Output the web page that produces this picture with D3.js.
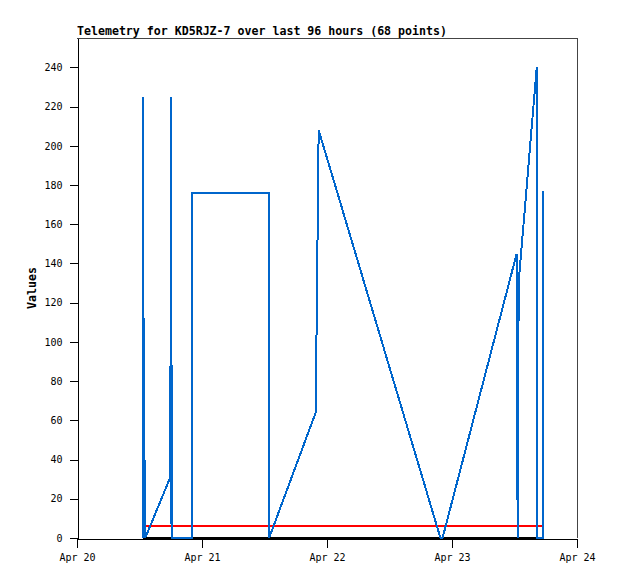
<!DOCTYPE html>
<html>
<head>
<meta charset="utf-8">
<script src="https://cdn.jsdelivr.net/npm/d3@7"></script>
<style>
  html, body { margin: 0; padding: 0; background: #fff; }
  svg { display: block; }
  text { font-family: "DejaVu Sans Mono", monospace; }
</style>
</head>
<body>
<script>
// ---- data ----
const titleText = "Telemetry for KD5RJZ-7 over last 96 hours (68 points)";
const yLabelText = "Values";

const blueTimes = [
  "2020-04-20T12:35", "2020-04-20T12:40", "2020-04-20T12:48", "2020-04-20T12:54",
  "2020-04-20T13:00", "2020-04-20T13:06", "2020-04-20T17:55", "2020-04-20T18:03",
  "2020-04-20T18:09", "2020-04-20T18:14", "2020-04-20T18:20", "2020-04-20T22:00",
  "2020-04-20T22:00", "2020-04-21T12:53", "2020-04-21T12:53", "2020-04-21T21:50",
  "2020-04-21T22:24", "2020-04-22T21:47", "2020-04-22T22:11", "2020-04-23T12:25",
  "2020-04-23T12:31", "2020-04-23T12:36", "2020-04-23T12:40", "2020-04-23T12:49",
  "2020-04-23T16:16", "2020-04-23T16:20", "2020-04-23T17:24", "2020-04-23T17:24"
];
const blueValues = [
  225, 0, 112, 0,
  40, 0, 31, 225,
  0, 88, 0, 0,
  176, 176, 0, 64,
  208, 0, 0, 145,
  72, 0, 64, 131,
  240, 0, 0, 177
];
const redTimes = ["2020-04-20T13:06", "2020-04-23T17:15"];
const redValues = [6, 6];
const blackTimes = ["2020-04-20T12:35", "2020-04-23T17:25"];
const blackValues = [0, 0];

const xTickDates = ["2020-04-20", "2020-04-21", "2020-04-22", "2020-04-23", "2020-04-24"];
const yTickValues = [0, 20, 40, 60, 80, 100, 120, 140, 160, 180, 200, 220, 240];
const xDomain = ["2020-04-20", "2020-04-24"];
const yDomain = [0, 255];

// ---- layout ----
const W = 618, H = 579;
const mLeft = 77, mRight = 577, mTop = 38, mBottom = 538;

const parseT = d3.timeParse("%Y-%m-%dT%H:%M");
const parseD = d3.timeParse("%Y-%m-%d");

const x = d3.scaleTime().domain(xDomain.map(parseD)).range([mLeft, mRight]);
const y = d3.scaleLinear().domain(yDomain).range([mBottom, mTop]);

const svg = d3.select("body").append("svg").attr("width", W).attr("height", H);
svg.append("rect").attr("width", W).attr("height", H).attr("fill", "#fff");

// frame (top and right)
svg.append("path")
  .attr("d", `M${mLeft},${mTop + 0.5}H${mRight + 0.5}V${mBottom}`)
  .attr("fill", "none").attr("stroke", "#444").attr("stroke-width", 1)
  .attr("shape-rendering", "crispEdges");

// series
const line = d3.line().x(d => x(d[0])).y(d => y(d[1]));
function series(times, values, color, w) {
  const pts = times.map((t, i) => [parseT(t), values[i]]);
  svg.append("path").datum(pts)
    .attr("d", line)
    .attr("fill", "none")
    .attr("stroke", color)
    .attr("stroke-width", w)
    .attr("stroke-linejoin", "miter")
    .attr("shape-rendering", "crispEdges");
}

// y axis
const yAxis = d3.axisLeft(y).tickValues(yTickValues).tickSize(8).tickSizeOuter(0).tickPadding(7);
const gy = svg.append("g").attr("transform", `translate(${mLeft + 0.5},0)`).call(yAxis);
gy.select(".domain").attr("stroke", "#000").attr("shape-rendering", "crispEdges");
gy.selectAll(".tick line").attr("stroke", "#000").attr("shape-rendering", "crispEdges");
gy.selectAll("text").attr("font-size", "10px").attr("fill", "#000")
  .attr("font-family", "'DejaVu Sans Mono', monospace");

// x axis
const xAxis = d3.axisBottom(x).tickValues(xTickDates.map(parseD)).tickSize(9).tickSizeOuter(0)
  .tickPadding(6).tickFormat(d3.timeFormat("%b %-d"));
const gx = svg.append("g").attr("transform", `translate(0,${mBottom + 0.5})`).call(xAxis);
gx.select(".domain").attr("stroke", "#000").attr("shape-rendering", "crispEdges");
gx.selectAll(".tick line").attr("stroke", "#000").attr("shape-rendering", "crispEdges");
gx.selectAll("text").attr("font-size", "10px").attr("fill", "#000")
  .attr("font-family", "'DejaVu Sans Mono', monospace");

series(blackTimes, blackValues, "#000000", 2);
series(redTimes, redValues, "#ff0000", 2);
series(blueTimes, blueValues, "#0066cc", 2);

// title
svg.append("text")
  .attr("x", mLeft).attr("y", 35)
  .attr("font-size", "11.6px").attr("font-weight", "bold")
  .attr("fill", "#000")
  .text(titleText);

// y label
svg.append("text")
  .attr("transform", `translate(36,${(mTop + mBottom) / 2}) rotate(-90)`)
  .attr("text-anchor", "middle")
  .attr("font-size", "11.6px").attr("font-weight", "bold")
  .attr("fill", "#000")
  .text(yLabelText);
</script>
</body>
</html>
